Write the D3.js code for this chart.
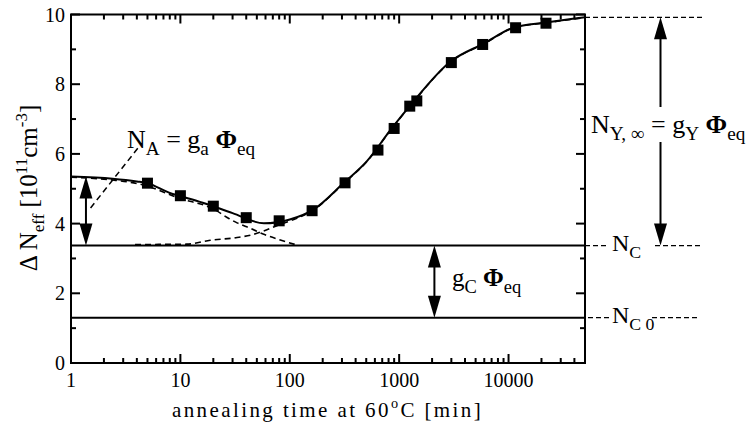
<!DOCTYPE html>
<html>
<head>
<meta charset="utf-8">
<script src="https://cdn.jsdelivr.net/npm/d3@7"></script>
<style>
  body { margin: 0; background: #fff; }
  text { font-family: "Liberation Serif", "Times New Roman", serif; fill: #000; }
</style>
</head>
<body>
<script>
// measured points (annealing time [min], delta Neff [1e11 cm^-3])
const dataTime = [5, 10, 20, 40, 80, 160, 320, 640, 900, 1250, 1450, 3000, 5800, 11600, 22000];
const dataNeff = [5.16, 4.80, 4.50, 4.17, 4.08, 4.37, 5.17, 6.11, 6.73, 7.37, 7.52, 8.62, 9.14, 9.62, 9.75];

// full fit curve
const fitTime = [1, 2.4, 4, 5, 8, 10, 16, 30, 58, 100, 166, 312, 510, 834, 1270, 2950, 5970, 11200, 21900, 50000];
const fitNeff = [5.35, 5.29, 5.21, 5.16, 4.88, 4.79, 4.60, 4.30, 4.01, 4.12, 4.41, 5.17, 5.80, 6.69, 7.40, 8.65, 9.17, 9.63, 9.77, 9.92];

// short term annealing part (N_A decay + N_C)
const decayTime = [1, 2.4, 4.3, 10, 20, 28, 33, 44, 57, 82, 112];
const decayNeff = [5.33, 5.25, 5.13, 4.72, 4.42, 4.14, 4.02, 3.86, 3.70, 3.53, 3.40];

// reverse annealing part (N_C + N_Y)
const riseTime = [3.85, 11.4, 18.7, 33, 44, 57, 82, 116, 166, 312, 510, 834, 1270, 2950, 5970, 11200, 21900, 50000];
const riseNeff = [3.40, 3.41, 3.52, 3.60, 3.67, 3.78, 3.98, 4.15, 4.40, 5.16, 5.79, 6.68, 7.39, 8.64, 9.16, 9.62, 9.76, 9.91];

const levelNC = 3.37;
const levelNC0 = 1.30;
const levelNYinf = 9.92;
const levelNA = 5.35;

const xMajor = [1, 10, 100, 1000, 10000];
const yMajor = [0, 2, 4, 6, 8, 10];
const yMinor = [1, 3, 5, 7, 9];

const width = 752, height = 432;
const mLeft = 71, mRight = 585, mTop = 14.5, mBottom = 363;

const svg = d3.select("body").append("svg")
  .attr("width", width)
  .attr("height", height);

const x = d3.scaleLog().domain([1, 50000]).range([mLeft, mRight]);
const y = d3.scaleLinear().domain([0, 10]).range([mBottom, mTop]);

// minor x ticks 2..9 of each decade
const xMinor = [];
xMajor.forEach(d => { for (let k = 2; k <= 9; k++) if (d * k < 50000) xMinor.push(d * k); });

// axes with inward ticks
function tickLines(g, vals, len, dir) {
  g.selectAll(null).data(vals).enter().append("line")
    .attr("stroke", "#000").attr("stroke-width", 2)
    .each(function(d) {
      const s = d3.select(this);
      if (dir === "bottom") s.attr("x1", x(d)).attr("x2", x(d)).attr("y1", mBottom).attr("y2", mBottom - len);
      if (dir === "top") s.attr("x1", x(d)).attr("x2", x(d)).attr("y1", mTop).attr("y2", mTop + len);
      if (dir === "left") s.attr("y1", y(d)).attr("y2", y(d)).attr("x1", mLeft).attr("x2", mLeft + len);
      if (dir === "right") s.attr("y1", y(d)).attr("y2", y(d)).attr("x1", mRight).attr("x2", mRight - len);
    });
}
const axes = svg.append("g");
["bottom", "top"].forEach(dir => { tickLines(axes, xMajor, 9, dir); tickLines(axes, xMinor, 5, dir); });
["left", "right"].forEach(dir => { tickLines(axes, yMajor, 9, dir); tickLines(axes, yMinor, 5, dir); });

axes.selectAll(".xl").data(xMajor).enter().append("text")
  .attr("x", d => x(d)).attr("y", mBottom + 24)
  .attr("text-anchor", "middle").attr("font-size", 20)
  .text(d => d);
axes.selectAll(".yl").data(yMajor).enter().append("text")
  .attr("x", mLeft - 6).attr("y", d => y(d) + 7)
  .attr("text-anchor", "end").attr("font-size", 20)
  .text(d => d);

// horizontal levels
svg.append("line").attr("x1", mLeft).attr("x2", mRight).attr("y1", y(levelNC)).attr("y2", y(levelNC))
  .attr("stroke", "#000").attr("stroke-width", 2);
svg.append("line").attr("x1", mLeft).attr("x2", mRight).attr("y1", y(levelNC0)).attr("y2", y(levelNC0))
  .attr("stroke", "#000").attr("stroke-width", 2);

// curves
const line = d3.line().x(d => x(d[0])).y(d => y(d[1])).curve(d3.curveMonotoneX);
svg.append("path").datum(d3.zip(decayTime, decayNeff)).attr("d", line)
  .attr("fill", "none").attr("stroke", "#000").attr("stroke-width", 1.6).attr("stroke-dasharray", "6,4");
svg.append("path").datum(d3.zip(riseTime, riseNeff)).attr("d", line)
  .attr("fill", "none").attr("stroke", "#000").attr("stroke-width", 1.6).attr("stroke-dasharray", "6,4");
svg.append("path").datum(d3.zip(fitTime, fitNeff)).attr("d", line)
  .attr("fill", "none").attr("stroke", "#000").attr("stroke-width", 2);

// data squares
const sq = 11;
svg.selectAll(".pt").data(d3.zip(dataTime, dataNeff)).enter().append("rect")
  .attr("x", d => x(d[0]) - sq / 2).attr("y", d => y(d[1]) - sq / 2)
  .attr("width", sq).attr("height", sq).attr("fill", "#000");

// frame
svg.append("rect").attr("x", mLeft).attr("y", mTop).attr("width", mRight - mLeft).attr("height", mBottom - mTop)
  .attr("fill", "none").attr("stroke", "#000").attr("stroke-width", 2);

// arrows
function arrowHead(px, py, dirUp) {
  const hl = 22, hw = 6.5;
  const s = dirUp ? 1 : -1;
  svg.append("path")
    .attr("d", `M${px},${py} L${px - hw},${py + s * hl} L${px + hw},${py + s * hl} Z`)
    .attr("fill", "#000");
}
function doubleArrow(px, y1, y2, gap) {
  if (gap) {
    svg.append("line").attr("x1", px).attr("x2", px).attr("y1", y1 + 10).attr("y2", gap[0]).attr("stroke", "#000").attr("stroke-width", 2);
    svg.append("line").attr("x1", px).attr("x2", px).attr("y1", gap[1]).attr("y2", y2 - 10).attr("stroke", "#000").attr("stroke-width", 2);
  } else {
    svg.append("line").attr("x1", px).attr("x2", px).attr("y1", y1 + 10).attr("y2", y2 - 10).attr("stroke", "#000").attr("stroke-width", 2);
  }
  arrowHead(px, y1, true);
  arrowHead(px, y2, false);
}
doubleArrow(x(1.37), y(levelNA), y(levelNC));
doubleArrow(x(2100), y(levelNC), y(levelNC0));
doubleArrow(660.5, y(levelNYinf), y(levelNC), [107, 142]);

// dashed extensions to the right of the frame
const dash = "5,3";
function hDash(x1, x2, yy) {
  svg.append("line").attr("x1", x1).attr("x2", x2).attr("y1", yy).attr("y2", yy)
    .attr("stroke", "#000").attr("stroke-width", 1.3).attr("stroke-dasharray", dash);
}
hDash(mRight, 702, y(levelNYinf));
hDash(mRight, 608, y(levelNC));
hDash(655, 702, y(levelNC));
hDash(588, 610, y(levelNC0));
hDash(652, 700, y(levelNC0));

// N_A leader
svg.append("line").attr("x1", x(1.51)).attr("y1", y(4.45)).attr("x2", x(4.1)).attr("y2", y(6.17))
  .attr("stroke", "#000").attr("stroke-width", 1.5).attr("stroke-dasharray", "6,4");

// rich text helper: parts = [text, kind] kind: "", "sub", "sup", "bold"
function rich(px, py, size, parts, attrs, subScale) {
  const sc = subScale || 0.68;
  const t = svg.append("text").attr("x", px).attr("y", py).attr("font-size", size);
  if (attrs) Object.entries(attrs).forEach(([k, v]) => t.attr(k, v));
  let shift = 0;
  parts.forEach(([s, kind]) => {
    const sp = t.append("tspan").text(s);
    let target = 0;
    if (kind === "sub") { target = size * 0.28; sp.attr("font-size", size * sc); }
    else if (kind === "sup") { target = -size * 0.42; sp.attr("font-size", size * sc); }
    else if (kind === "bold") { sp.attr("font-weight", "bold"); }
    sp.attr("dy", target - shift);
    shift = target;
  });
  return t;
}

rich(127, 148, 26, [["N", ""], ["A", "sub"], [" = g", ""], ["a", "sub"], [" ", ""], ["Φ", "bold"], ["eq", "sub"]], null, 0.74);
rich(591, 133, 26, [["N", ""], ["Y, ∞", "sub"], [" = g", ""], ["Y", "sub"], [" ", ""], ["Φ", "bold"], ["eq", "sub"]], null, 0.74);
rich(612, 251, 24, [["N", ""], ["C", "sub"]], null, 0.74);
rich(612, 323, 24, [["N", ""], ["C 0", "sub"]], null, 0.74);
rich(452, 286, 25, [["g", ""], ["C", "sub"], ["  ", ""], ["Φ", "bold"], ["eq", "sub"]], null, 0.74);

// axis titles
rich(172, 417, 21, [["annealing time at 60", ""], ["o", "sup"], ["C [min]", ""]], { "letter-spacing": 2.4 });
rich(0, 0, 25, [["Δ N", ""], ["eff", "sub"], [" [10", ""], ["11", "sup"], ["cm", ""], ["-3", "sup"], ["]", ""]],
  { "transform": "translate(37,188) rotate(-90)", "text-anchor": "middle" });
</script>
</body>
</html>
